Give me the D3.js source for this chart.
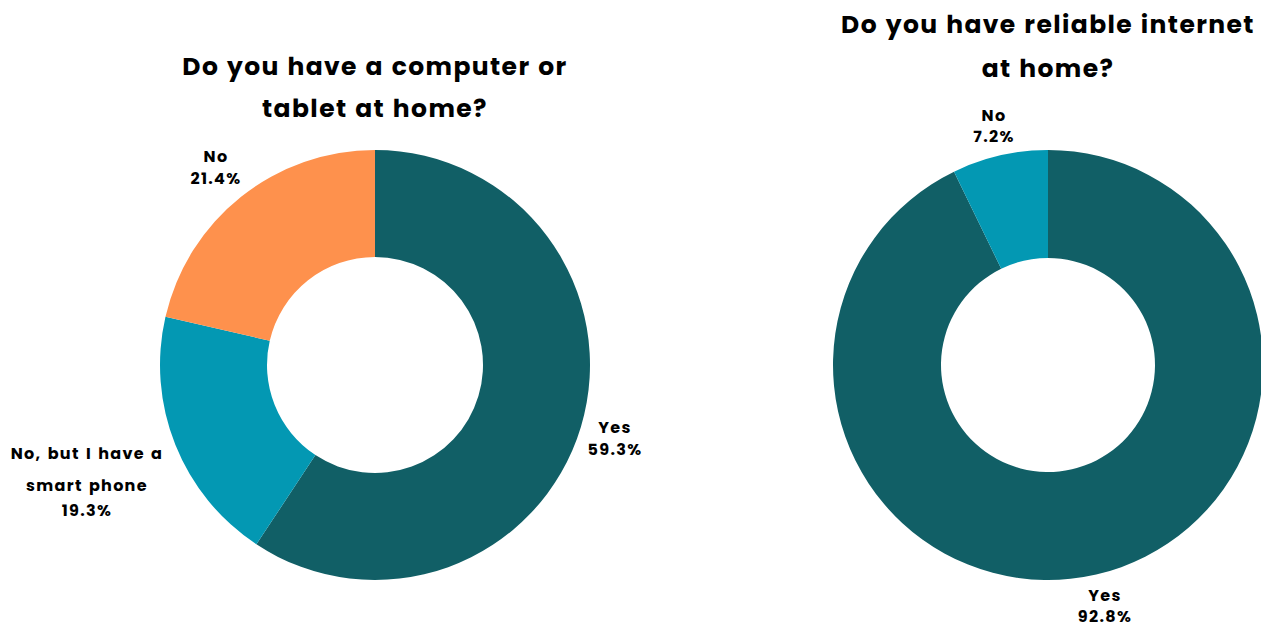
<!DOCTYPE html>
<html>
<head>
<meta charset="utf-8">
<script src="https://cdn.jsdelivr.net/npm/d3@7"></script>
<style>
  html, body { margin: 0; padding: 0; background: #fff; }
  svg { display: block; }
  text { font-family: "Poppins", "DejaVu Sans", sans-serif; font-weight: 700; fill: #000; }
</style>
</head>
<body>
<svg id="chart" width="1261" height="626"></svg>
<script>
// Survey answers, one set per donut
const deviceLabels = ["Yes", "No, but I have a smart phone", "No"];
const deviceValues = [59.3, 19.3, 21.4];
const internetLabels = ["Yes", "No"];
const internetValues = [92.8, 7.2];

const deviceTitle = ["Do you have a computer or", "tablet at home?"];
const internetTitle = ["Do you have reliable internet", "at home?"];

const deviceColors = ["#115f66", "#0398b3", "#fe914d"];
const internetColors = ["#115f66", "#0398b3"];

const svg = d3.select("#chart");

function donut(cfg) {
  const g = svg.append("g").attr("transform", `translate(${cfg.cx},${cfg.cy})`);
  const pie = d3.pie().sort(null).value(d => d.value);
  const arc = d3.arc().innerRadius(cfg.inner).outerRadius(cfg.outer);
  const data = cfg.labels.map((l, i) => ({ label: l, value: cfg.values[i] }));
  const color = d3.scaleOrdinal().domain(cfg.labels).range(cfg.colors);
  const arcs = pie(data);

  g.selectAll("path.slice")
    .data(arcs)
    .join("path")
    .attr("class", "slice")
    .attr("d", arc)
    .attr("fill", d => color(d.data.label));

  // title lines
  svg.append("g")
    .selectAll("text")
    .data(cfg.title)
    .join("text")
    .attr("x", cfg.cx)
    .attr("y", (d, i) => cfg.titleY + i * cfg.titleGap)
    .attr("text-anchor", "middle")
    .attr("dominant-baseline", "central")
    .style("font-size", "25px")
    .style("letter-spacing", "1.4px")
    .style("word-spacing", "1px")
    .text(d => d);

  // slice labels: category name lines + percentage
  arcs.forEach((a, i) => {
    const pos = cfg.labelPos[i];
    const lines = cfg.labelLines[i].concat([d3.format(".1f")(a.data.value) + "%"]);
    svg.append("g")
      .selectAll("text")
      .data(lines)
      .join("text")
      .attr("x", pos.x)
      .attr("y", (d, j) => pos.ys[j])
      .attr("text-anchor", "middle")
      .attr("dominant-baseline", "central")
      .style("font-size", "16px")
      .style("letter-spacing", "1.3px")
      .style("word-spacing", "1.5px")
      .text(d => d);
  });
}

donut({
  cx: 375, cy: 365, outer: 215, inner: 108,
  labels: deviceLabels, values: deviceValues, colors: deviceColors,
  title: deviceTitle, titleY: 66, titleGap: 42,
  labelLines: [["Yes"], ["No, but I have a", "smart phone"], ["No"]],
  labelPos: [
    { x: 615, ys: [427, 449] },
    { x: 87, ys: [453, 485, 510] },
    { x: 216, ys: [156, 178] }
  ]
});

donut({
  cx: 1048, cy: 365, outer: 215, inner: 107,
  labels: internetLabels, values: internetValues, colors: internetColors,
  title: internetTitle, titleY: 24, titleGap: 44,
  labelLines: [["Yes"], ["No"]],
  labelPos: [
    { x: 1105, ys: [595, 616] },
    { x: 994, ys: [115, 136] }
  ]
});
</script>
</body>
</html>
